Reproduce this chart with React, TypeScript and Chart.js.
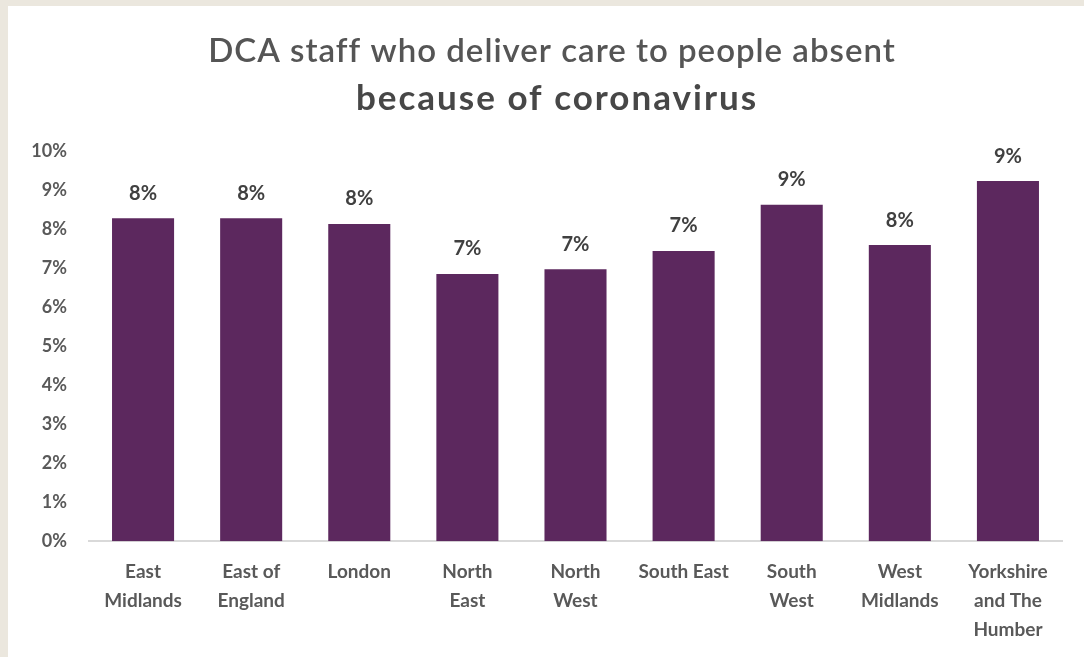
import React, { useEffect, useRef } from "react";
import { Chart, registerables } from "chart.js";

Chart.register(...registerables);

const categories: (string | string[])[] = [
  ["East", "Midlands"],
  ["East of", "England"],
  "London",
  ["North", "East"],
  ["North", "West"],
  "South East",
  ["South", "West"],
  ["West", "Midlands"],
  ["Yorkshire", "and The", "Humber"],
];
const absentPct = [8.28, 8.28, 8.13, 6.85, 6.97, 7.44, 8.62, 7.59, 9.23];
const titleLine1 = "DCA staff who deliver care to people absent";
const titleLine2 = "because of coronavirus";

const FONT = "Lato, 'Open Sans', sans-serif";

const overlayPlugin = {
  id: "overlay",
  afterDatasetsDraw(chart: any) {
    const ctx = chart.ctx;
    ctx.save();
    ctx.textAlign = "center";
    ctx.textBaseline = "middle";
    ctx.fillStyle = "#555555";
    ctx.font = `600 33px ${FONT}`;
    (ctx as any).letterSpacing = "1px";
    ctx.fillText(titleLine1, 544, 45);
    ctx.fillStyle = "#474747";
    ctx.font = `bold 35px ${FONT}`;
    (ctx as any).letterSpacing = "2px";
    ctx.fillText(titleLine2, 549, 93);
    (ctx as any).letterSpacing = "0px";
    const meta = chart.getDatasetMeta(0);
    ctx.font = `bold 20px ${FONT}`;
    ctx.fillStyle = "#404040";
    meta.data.forEach((bar: any, i: number) => {
      const v = chart.data.datasets[0].data[i] as number;
      ctx.fillText(Math.round(v) + "%", bar.x, bar.y - 25);
    });
    ctx.restore();
  },
};

export default function App() {
  const ref = useRef<HTMLCanvasElement>(null);
  useEffect(() => {
    const chart = new Chart(ref.current!, {
      type: "bar",
      data: {
        labels: categories,
        datasets: [
          {
            data: absentPct,
            backgroundColor: "#5c285e",
            categoryPercentage: 1,
            barPercentage: 0.574,
          },
        ],
      },
      options: {
        animation: false,
        responsive: true,
        maintainAspectRatio: false,
        layout: { padding: { top: 145, right: 22, bottom: -3, left: 0 } },
        plugins: {
          legend: { display: false },
          tooltip: { enabled: false },
          title: { display: false },
        },
        scales: {
          x: {
            grid: { display: false, drawTicks: false },
            border: { display: true, color: "#d9d9d9", width: 2 },
            ticks: {
              color: "#595959",
              font: { family: FONT, size: 19, weight: "bold", lineHeight: 1.52 },
              padding: 16,
              maxRotation: 0,
              autoSkip: false,
            },
          },
          y: {
            min: 0,
            max: 10,
            grid: { display: false, drawTicks: false },
            border: { display: false },
            ticks: {
              stepSize: 1,
              color: "#595959",
              font: { family: FONT, size: 18, weight: "bold" },
              padding: 22,
              callback: (v: any) => v + "%",
            },
            afterFit: (s: any) => {
              s.width = 81;
            },
          },
        },
      },
      plugins: [overlayPlugin],
    });
    return () => chart.destroy();
  }, []);
  return (
    <div style={{ position: "fixed", inset: 0, background: "#ebe7de" }}>
      <div style={{ position: "absolute", left: 8, top: 6, right: 0, bottom: 0, background: "#ffffff" }}>
        <canvas ref={ref} />
      </div>
    </div>
  );
}
